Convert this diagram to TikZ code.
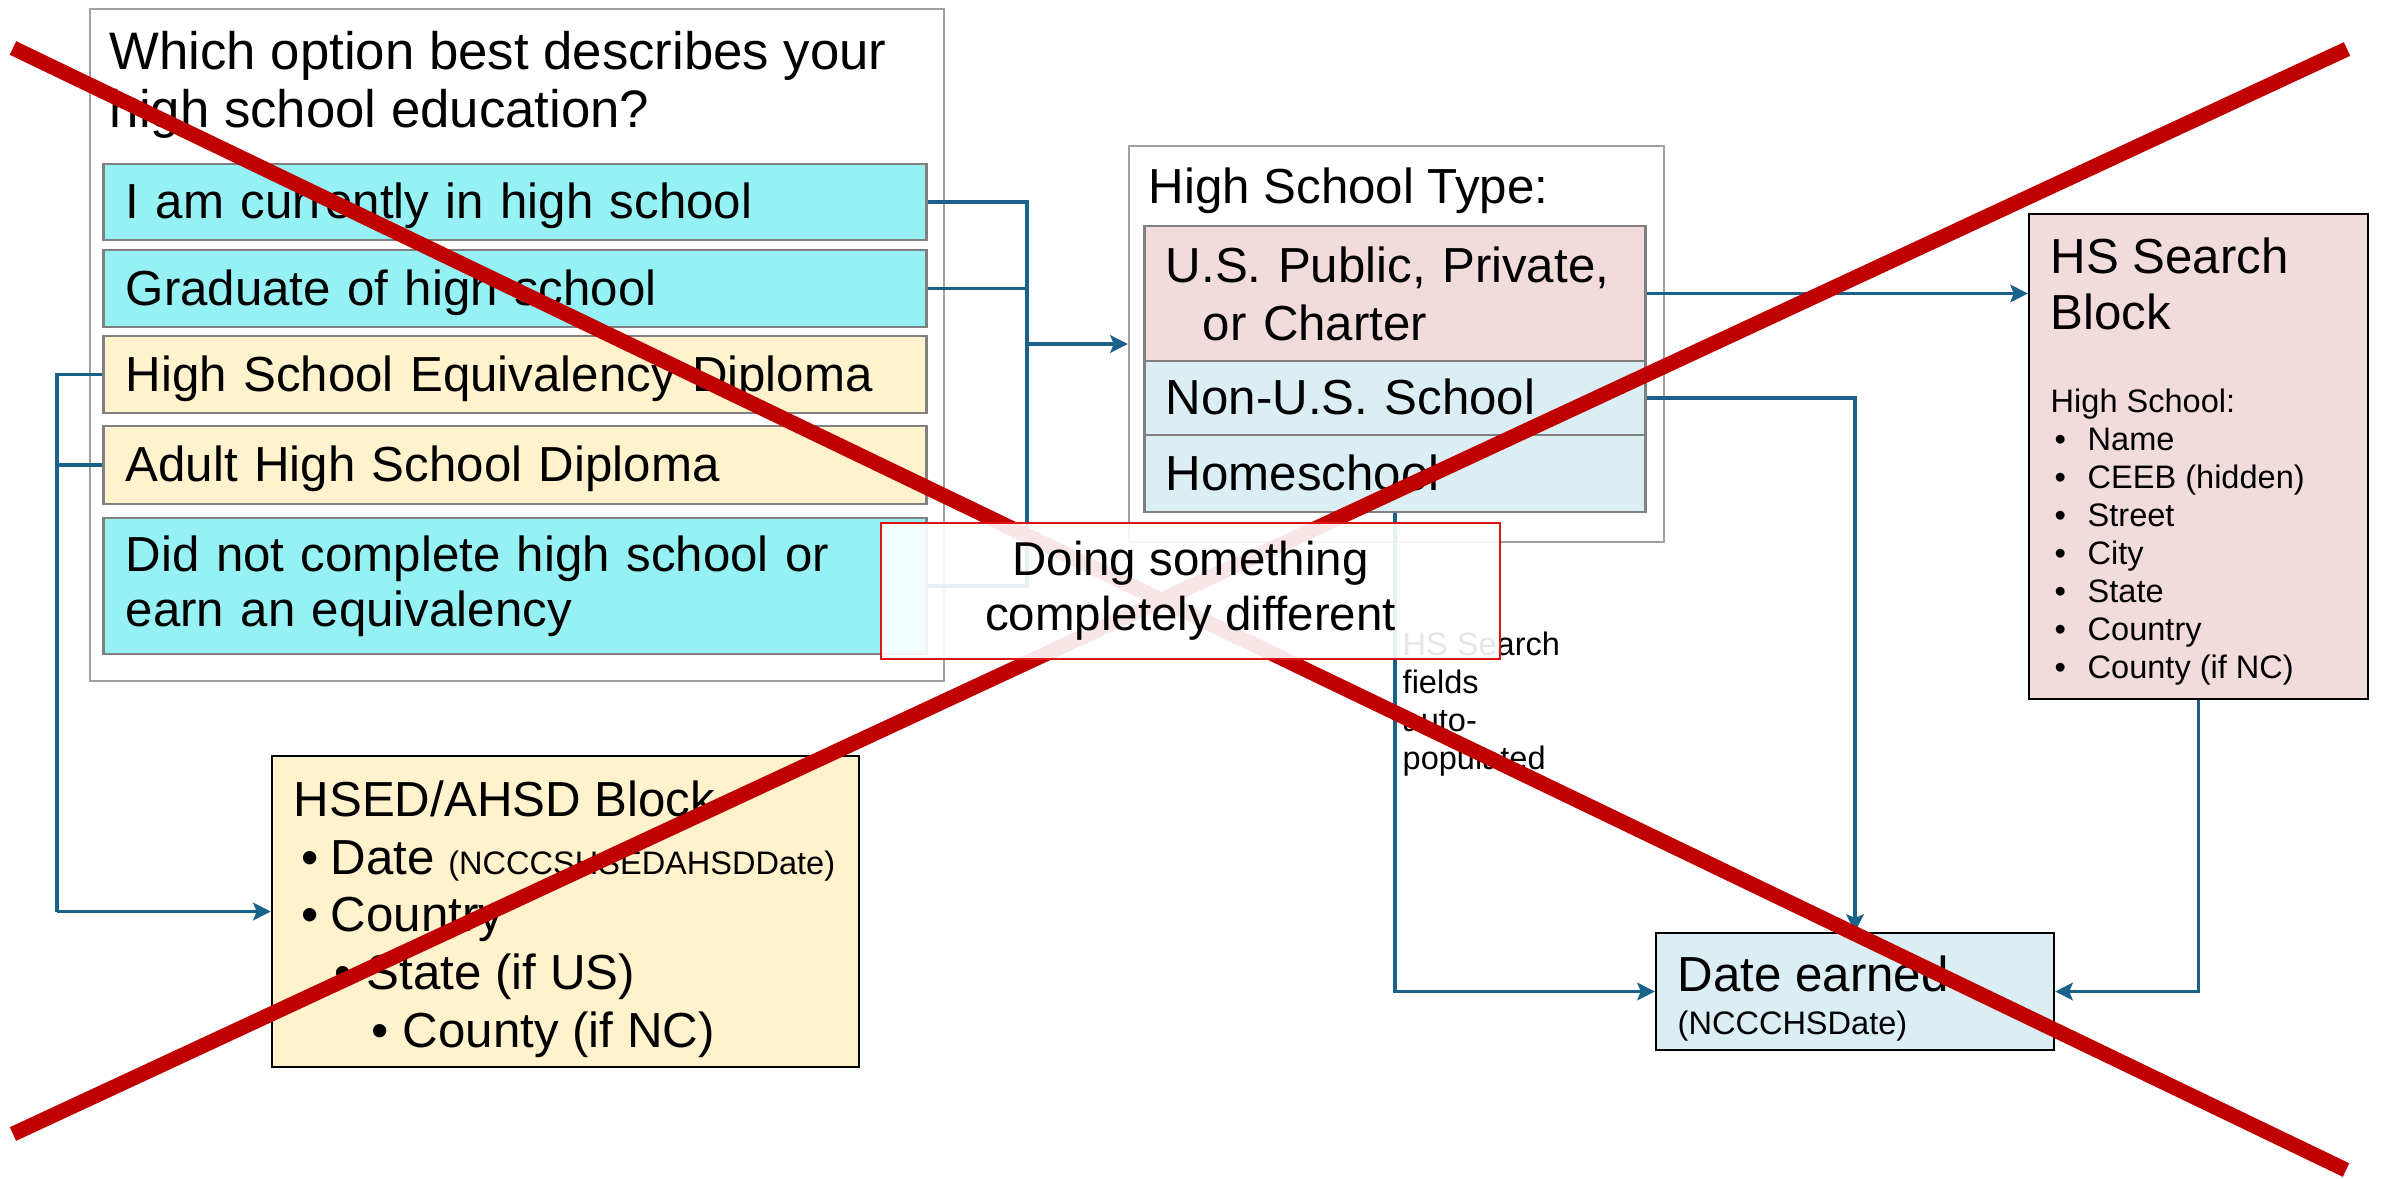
\documentclass[tikz,border=0pt]{standalone}
\usepackage{fontspec}
\setmainfont{Liberation Sans}
\usepackage{xcolor}
\usepackage{tikz}
\usetikzlibrary{positioning,arrows.meta}

\definecolor{optcyan}{RGB}{150,241,245}
\definecolor{optcream}{RGB}{255,242,204}
\definecolor{blkpink}{RGB}{242,220,219}
\definecolor{blkblue}{RGB}{218,238,243}
\definecolor{linkblue}{RGB}{26,98,138}
\definecolor{crossred}{RGB}{192,0,0}
\definecolor{diffred}{RGB}{220,20,20}
\definecolor{framegray}{RGB}{160,160,160}
\definecolor{optgray}{RGB}{128,128,128}

\newcommand{\bigtxt}{\fontsize{14}{16.5}\selectfont}
\newcommand{\smalltxt}{\fontsize{9.25}{10.8}\selectfont}
\newcommand{\bitem}[2]{\hspace*{#1}\makebox[#2][l]{\textbullet}}

\begin{document}
\begin{tikzpicture}[x=0.01cm, y=-0.01cm,
    frame/.style={draw=framegray, line width=0.6pt},
    opt/.style={draw=optgray, line width=0.8pt, minimum width=8.22cm, text width=7.78cm, inner xsep=0.22cm, inner ysep=0pt, align=left, font=\bigtxt},
    typ/.style={draw=optgray, line width=0.8pt, minimum width=5.00cm, text width=4.58cm, inner xsep=0.21cm, inner ysep=0pt, align=left, font=\bigtxt},
    oneline/.style={text height=12.5pt, text depth=3pt},
    blk/.style={draw=black, line width=0.6pt},
    txt/.style={inner sep=0pt, align=left},
    link/.style={draw=linkblue, line width=0.9pt},
    arr/.style={link, -{Stealth[length=5pt,width=5pt,inset=1pt]}},
    cross/.style={draw=crossred, line width=0.15cm}
]
    \useasboundingbox (0,0) rectangle (2386,1178);

    % question
    \node[frame, minimum width=8.54cm, minimum height=6.72cm] (qbox) at (517,345) {};
    \node[txt, font=\fontsize{15}{16.5}\selectfont, anchor=north west] (qtitle) at (109,31) {Which option best describes your\\high school education?};
    \node[opt, oneline, fill=optcyan, minimum height=0.76cm] (cur) at (515,202) {I am currently in high school};
    \node[opt, oneline, fill=optcyan, minimum height=0.77cm] (grad) at (515,288.5) {Graduate of high school};
    \node[opt, oneline, fill=optcream, minimum height=0.77cm] (hsed) at (515,374.5) {High School Equivalency Diploma};
    \node[opt, oneline, fill=optcream, minimum height=0.78cm] (ahsd) at (515,465) {Adult High School Diploma};
    \node[opt, fill=optcyan, minimum height=1.36cm, font=\fontsize{14}{15.6}\selectfont] (none) at (515,586) {Did not complete high school or\\earn an equivalency};

    % school type
    \node[frame, minimum width=5.35cm, minimum height=3.96cm] (tbox) at (1396.5,344) {};
    \node[txt, font=\bigtxt, anchor=base west] (ttitle) at (1148,203) {High School Type:};
    \node[typ, fill=blkpink, minimum height=1.35cm] (tus) at (1395,293.5) {U.S. Public, Private,\\\hspace*{0.37cm}or Charter};
    \node[typ, oneline, fill=blkblue, minimum height=0.74cm] (nonus) at (1395,398) {Non-U.S. School};
    \node[typ, oneline, fill=blkblue, minimum height=0.77cm] (home) at (1395,473.5) {Homeschool};

    % search block
    \node[blk, fill=blkpink, minimum width=3.39cm, minimum height=4.85cm] (srch) at (2198.5,456.5) {};
    \node[txt, font=\fontsize{14}{16}\selectfont, anchor=north west] (srchtitle) at (2050,237) {HS Search\\Block};
    \node[txt, font=\smalltxt, anchor=north west] (srchlist) at (2050,388) {High School:\\
        \bitem{0.04cm}{0.33cm}Name\\
        \bitem{0.04cm}{0.33cm}CEEB (hidden)\\
        \bitem{0.04cm}{0.33cm}Street\\
        \bitem{0.04cm}{0.33cm}City\\
        \bitem{0.04cm}{0.33cm}State\\
        \bitem{0.04cm}{0.33cm}Country\\
        \bitem{0.04cm}{0.33cm}County (if NC)};

    % HSED/AHSD block
    \node[blk, fill=optcream, minimum width=5.87cm, minimum height=3.11cm] (hsedblk) at (565.5,911.5) {};
    \node[txt, font=\fontsize{14}{16.4}\selectfont, anchor=north west] (hsedlist) at (293,780) {HSED/AHSD Block\\
        \bitem{0.08cm}{0.29cm}Date {\smalltxt(NCCCSHSEDAHSDDate)}\\
        \bitem{0.08cm}{0.29cm}Country\\
        \bitem{0.41cm}{0.32cm}State (if US)\\
        \bitem{0.78cm}{0.31cm}County (if NC)};

    % date earned
    \node[blk, fill=blkblue, minimum width=3.98cm, minimum height=1.17cm] (date) at (1855,991.5) {};
    \node[txt, font=\bigtxt, anchor=base west] (datetitle) at (1677,991) {Date earned};
    \node[txt, font=\smalltxt, anchor=base west] (datecode) at (1677,1034) {(NCCCHSDate)};

    \node[txt, font=\smalltxt, anchor=north west] (autonote) at (1402,631) {HS Search\\fields\\auto-\\populated};

    % connectors
    \coordinate (tjoin) at (1027,344);
    \coordinate (hjoin) at (57,911.5);
    \draw[link] (cur.east) -| (tjoin);
    \draw[link] (grad.east) -| (tjoin);
    \draw[link] (none.east) -| (tjoin);
    \draw[arr] (tjoin) -- (tbox.west);
    \draw[link] (hsed.west) -| (hjoin);
    \draw[link] (ahsd.west) -| (hjoin);
    \draw[arr] (hjoin) -- (hsedblk.west);
    \draw[arr] (tus.east) -- (tus.east -| srch.west);
    \draw[arr] (nonus.east) -| (date.north);
    \draw[arr] (home.south) |- (date.west);
    \draw[arr] (srch.south) |- (date.east);

    % crossed out
    \draw[cross] (13,48) -- (2346,1170);
    \draw[cross] (13,1134) -- (2347,49);

    \node[draw=diffred, line width=0.7pt, fill=white, fill opacity=0.9, text opacity=1, minimum width=6.19cm, minimum height=1.36cm, align=center, font=\fontsize{13.5}{15.6}\selectfont] (diff) at (1190.5,591) {Doing something\\completely different};
\end{tikzpicture}
\end{document}
